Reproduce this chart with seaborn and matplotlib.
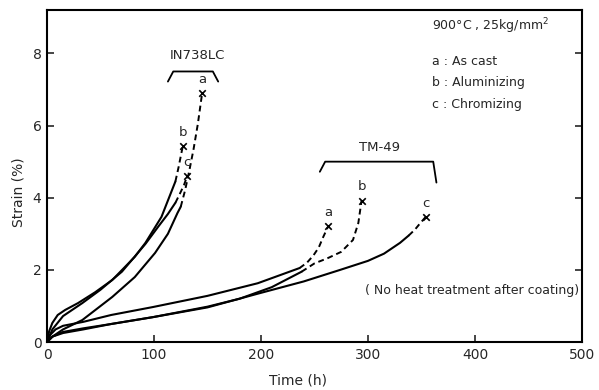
import matplotlib
matplotlib.use("Agg")
import matplotlib.pyplot as plt
import seaborn as sns

# creep curves at 900C, 25 kg/mm2
# IN738LC
in_a_t = [0, 5, 15, 33, 47, 61, 82, 101, 113, 122, 125]
in_a_s = [0, 0.15, 0.35, 0.61, 0.93, 1.25, 1.8, 2.47, 3.0, 3.58, 3.75]
in_a_dt = [125, 129, 133, 137, 141, 145]
in_a_ds = [3.75, 4.2, 4.75, 5.35, 6.05, 6.9]

in_b_t = [0, 2, 5, 10, 17, 29, 45, 61, 82, 92, 107, 118, 120]
in_b_s = [0, 0.3, 0.53, 0.75, 0.89, 1.08, 1.38, 1.72, 2.36, 2.75, 3.47, 4.3, 4.45]
in_b_dt = [120, 123, 125, 127]
in_b_ds = [4.45, 4.85, 5.15, 5.44]

in_c_t = [0, 5, 15, 33, 50, 70, 92, 104, 113, 120]
in_c_s = [0, 0.35, 0.72, 1.08, 1.45, 1.95, 2.72, 3.2, 3.55, 3.86]
in_c_dt = [120, 124, 128, 131]
in_c_ds = [3.86, 4.1, 4.35, 4.6]

# TM-49
tm_a_t = [0, 3, 8, 15, 34, 60, 99, 150, 197, 236]
tm_a_s = [0, 0.2, 0.35, 0.45, 0.56, 0.75, 0.97, 1.28, 1.63, 2.05]
tm_a_dt = [236, 243, 249, 254, 258, 263]
tm_a_ds = [2.05, 2.2, 2.4, 2.62, 2.9, 3.22]

tm_b_t = [0, 5, 15, 34, 60, 99, 150, 180, 210, 238]
tm_b_s = [0, 0.15, 0.28, 0.38, 0.5, 0.69, 0.98, 1.2, 1.52, 1.95]
tm_b_dt = [238, 250, 262, 275, 286, 291, 294]
tm_b_ds = [1.95, 2.18, 2.32, 2.5, 2.83, 3.3, 3.92]

tm_c_t = [0, 5, 15, 34, 60, 99, 150, 197, 240, 274, 300, 315, 330, 338]
tm_c_s = [0, 0.15, 0.25, 0.35, 0.5, 0.69, 0.96, 1.34, 1.68, 2.0, 2.25, 2.45, 2.75, 2.95]
tm_c_dt = [338, 344, 349, 354]
tm_c_ds = [2.95, 3.12, 3.3, 3.47]

curves = [
    ("a", in_a_t, in_a_s, in_a_dt, in_a_ds),
    ("b", in_b_t, in_b_s, in_b_dt, in_b_ds),
    ("c", in_c_t, in_c_s, in_c_dt, in_c_ds),
    ("a", tm_a_t, tm_a_s, tm_a_dt, tm_a_ds),
    ("b", tm_b_t, tm_b_s, tm_b_dt, tm_b_ds),
    ("c", tm_c_t, tm_c_s, tm_c_dt, tm_c_ds),
]

sns.set_style("ticks")
plt.rcParams['font.family'] = ['DejaVu Sans']

fig = plt.figure(figsize=(5.99, 3.90), dpi=100)
ax = fig.add_axes([0.0785, 0.123, 0.893, 0.851])

for lab, t, s, dt, ds in curves:
    sns.lineplot(x=t, y=s, ax=ax, color="k", lw=1.5, sort=False, estimator=None)
    sns.lineplot(x=dt, y=ds, ax=ax, color="k", lw=1.4, sort=False, estimator=None,
                 linestyle=(0, (3, 2)))
    ax.scatter([dt[-1]], [ds[-1]], marker="x", color="k", s=22, lw=1.2, zorder=5)
    ax.text(dt[-1], ds[-1] + 0.2, lab, ha="center", va="bottom", fontsize=9.5)

# brackets and alloy names
ax.plot([113, 118, 155, 160], [7.22, 7.5, 7.5, 7.22], color="k", lw=1.3)
ax.text(141, 7.75, "IN738LC", ha="center", va="bottom", fontsize=9.5)
ax.plot([255, 260, 361, 364], [4.72, 5.0, 5.0, 4.42], color="k", lw=1.3)
ax.text(311, 5.2, "TM-49", ha="center", va="bottom", fontsize=9.5)

ax.text(360, 8.75, "900°C , 25kg/mm$^2$", ha="left", va="center", fontsize=9)
ax.text(360, 7.78, "a : As cast", ha="left", va="center", fontsize=9)
ax.text(360, 7.19, "b : Aluminizing", ha="left", va="center", fontsize=9)
ax.text(360, 6.58, "c : Chromizing", ha="left", va="center", fontsize=9)
ax.text(497, 1.44, "( No heat treatment after coating)", ha="right", va="center",
        fontsize=9)

ax.set_xlim(0, 500)
ax.set_ylim(0, 9.2)
ax.set_xticks([0, 100, 200, 300, 400, 500])
ax.set_yticks([0, 2, 4, 6, 8])
ax.tick_params(direction="in", length=5, width=1.2, labelsize=10, right=True,
               top=False, pad=4)
ax.set_xlabel("Time (h)", fontsize=10)
ax.xaxis.set_label_coords(0.47, -0.095)
ax.set_ylabel("Strain (%)", fontsize=10)
ax.yaxis.set_label_coords(-0.04, 0.45)
for sp in ax.spines.values():
    sp.set_linewidth(1.5)
    sp.set_color("k")

fig.savefig("out.png", dpi=100)
